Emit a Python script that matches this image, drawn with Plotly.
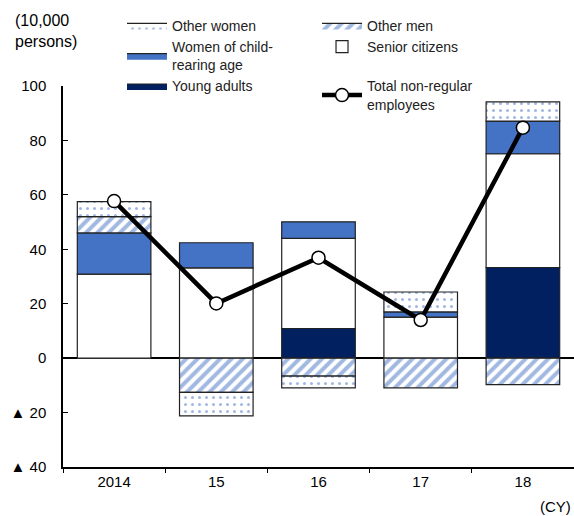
import plotly.graph_objects as go

years = ["2014", "15", "16", "17", "18"]
young_adults = [0.0, 0.0, 10.9, 0.0, 33.3]
senior_citizens = [30.9, 33.2, 33.1, 15.1, 41.8]
women_child = [15.1, 9.2, 6.1, 1.9, 12.0]
other_men = [6.0, -12.6, -6.6, -10.9, -9.7]
other_women = [5.5, -8.6, -4.3, 7.3, 7.1]
total = [57.7, 20.1, 36.9, 14.0, 84.7]

y_tickvals = [-40, -20, 0, 20, 40, 60, 80, 100]
y_ticktext = ["▲ 40", "▲ 20", "0", "20", "40", "60", "80", "100"]

FONT = "Liberation Sans, Arial, sans-serif"
BLUE = "#4472C4"
NAVY = "#002060"
EDGE = "#222222"
BW = 0.72

STRIPE = dict(shape="/", fgcolor=BLUE, bgcolor="white", size=8, solidity=0.5)
DOTS = dict(shape=".", fgcolor=BLUE, bgcolor="white", size=7, solidity=0.15)

# (name, values, marker style, legend rank, use wide proxy swatch in legend)
series = [
    ("Young adults", young_adults, dict(color=NAVY), 5, True),
    ("Senior citizens", senior_citizens, dict(color="white"), 4, False),
    ("Women of child-<br>rearing age", women_child, dict(color=BLUE), 3, True),
    ("Other men", other_men, dict(color="white", pattern=STRIPE), 2, True),
    ("Other women", other_women, dict(color="white", pattern=DOTS), 1, True),
]

fig = go.Figure()
for name, vals, mk, rank, proxy_legend in series:
    fig.add_bar(x=years, y=vals, name=name, width=BW, showlegend=not proxy_legend,
                legendrank=rank,
                marker=dict(line=dict(color=EDGE, width=1.2), **mk))
    if proxy_legend:
        # legend proxy (no data) so the legend shows a wide rectangular swatch
        proxy = dict(x=[None], y=[None], name=name, mode="lines", fill="toself",
                     legendrank=rank, line=dict(color=EDGE, width=1.2),
                     fillcolor=mk["color"], hoverinfo="skip")
        if "pattern" in mk:
            proxy["fillpattern"] = mk["pattern"]
        fig.add_scatter(**proxy)

fig.add_scatter(x=years, y=total, name="Total non-regular<br>employees", mode="lines+markers",
                legendrank=6,
                line=dict(color="black", width=4.5),
                marker=dict(size=13, color="white", line=dict(color="black", width=1.5)))

fig.update_layout(
    width=574, height=516,
    barmode="relative",
    paper_bgcolor="white", plot_bgcolor="white",
    margin=dict(l=63, r=0, t=86, b=49, autoexpand=False),
    font=dict(family=FONT, size=14, color="black"),
    showlegend=True,
    legend=dict(orientation="h", x=0.1155, xanchor="left", y=1.2, yanchor="top",
                entrywidth=140, entrywidthmode="pixels", traceorder="normal",
                font=dict(family=FONT, size=14, color="#222222"),
                bgcolor="rgba(0,0,0,0)", itemwidth=40, tracegroupgap=0),
    xaxis=dict(type="category", range=[-0.5, 4.5], showline=True, linecolor="black", linewidth=1.5,
               ticks="outside", tickson="boundaries", ticklen=4, tickcolor="black", tickwidth=1.2,
               showgrid=False, zeroline=False, tickfont=dict(size=15)),
    yaxis=dict(range=[-40, 100], tickvals=y_tickvals, ticktext=y_ticktext,
               showline=True, linecolor="black", linewidth=1.5,
               ticks="inside", ticklen=5, tickcolor="black", tickwidth=1.2,
               ticklabelstandoff=12,
               showgrid=False, zeroline=True, zerolinecolor="black", zerolinewidth=1.5,
               tickfont=dict(size=15)),
    annotations=[
        dict(text="(10,000<br>persons)", xref="paper", yref="paper", x=-0.0969, y=1.1995,
             xanchor="left", yanchor="top", showarrow=False, align="left",
             font=dict(family=FONT, size=16)),
        dict(text="(CY)", xref="paper", yref="paper", x=0.998, y=-0.104,
             xanchor="right", yanchor="middle", showarrow=False,
             font=dict(family=FONT, size=15)),
    ],
)

fig.write_html(
    "out.html",
    config={"displayModeBar": False},
    post_script="document.body.style.margin='0';document.body.style.overflow='hidden';",
)
